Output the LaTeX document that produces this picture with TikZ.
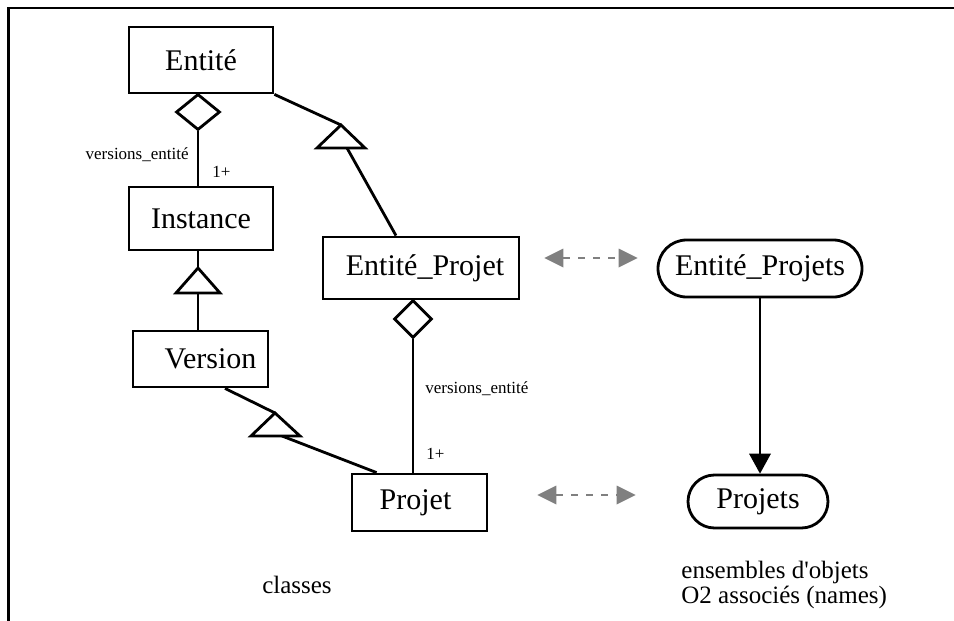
\documentclass[tikz,border=0pt]{standalone}
\usepackage{fontspec}
\setmainfont{Liberation Serif}
\usetikzlibrary{shapes.geometric,shapes.misc,arrows.meta,calc}
\begin{document}
\begin{tikzpicture}[x=1pt,y=-1pt,line width=2.8pt,
  box/.style={draw,rectangle,inner sep=0pt,font=\fontsize{30}{36}\selectfont},
  rbox/.style={draw,rounded rectangle,inner sep=0pt,font=\fontsize{30}{36}\selectfont},
  agg/.style={draw,diamond,fill=white,inner sep=0pt},
  tri/.style={draw,fill=white,line join=miter},
  small/.style={inner sep=0pt,font=\fontsize{17}{20}\selectfont},
  note/.style={inner sep=0pt,font=\fontsize{25}{25}\selectfont},
  garrow/.style={draw=gray,line width=2pt,dash pattern=on 7pt off 8pt,
    {Triangle[length=19pt,width=19pt,color=gray,line width=0pt]}-{Triangle[length=19pt,width=19pt,color=gray,line width=0pt]}},
  barrow/.style={-{Triangle[length=20pt,width=22pt,line width=0pt]}}
]
\useasboundingbox (0,0) rectangle (954,621);
% frame (top and left sides visible)
\draw[line width=2.8pt] (8.5,621) -- (8.5,8) -- (954,8);

% classes
\node[box,minimum width=144pt,minimum height=66pt] (entite) at (201,60) {Entité};
\node[box,minimum width=144pt,minimum height=63pt] (instance) at (201,218.5) {Instance};
\node[box,minimum width=135pt,minimum height=56pt] (version) at (200.5,359) {\hspace*{20pt}Version};
\node[box,minimum width=196pt,minimum height=62pt] (ep) at (421,268) {\hspace*{8pt}Entité\_Projet};
\node[box,minimum width=135pt,minimum height=57pt] (projet) at (419.5,502.5) {Projet\hspace*{8pt}};

% O2 names
\node[rbox,minimum width=204pt,minimum height=57pt] (eps) at (760,268.5) {Entité\_Projets};
\node[rbox,minimum width=140pt,minimum height=53pt] (projets) at (758,501.5) {Projets};

% aggregation diamonds
\node[agg,minimum width=44pt,minimum height=36pt] (d1) at (198,112) {};
\node[agg,minimum width=38pt,minimum height=38pt] (d2) at (413,319) {};

% generalisation triangles
\coordinate (t1) at (198,268); \coordinate (t1b) at (198,293);
\coordinate (t2) at (341,125); \coordinate (t2b) at (347,148);
\coordinate (t3) at (275,413); \coordinate (t3b) at (282,436);

% connectors
\draw (d1.south) -- (d1.south |- instance.north);
\draw (instance.south -| t1) -- (t1);
\draw (t1b) -- (t1b |- version.north);
\draw (entite.south east) -- (t2);
\draw (t2b) -- ($(ep.north)+(-25,0)$);
\draw ($(version.south)+(24.5,0)$) -- (t3);
\draw (t3b) -- ($(projet.north west)+(26,0)$);
\draw (d2.south) -- (d2.south |- projet.north);

\draw[tri] (t1) -- ++(-22,25) -- ++(44,0) -- cycle;
\draw[tri] (t2) -- ++(-24,23) -- ++(48,0) -- cycle;
\draw[tri] (t3) -- ++(-24,23) -- ++(49,0) -- cycle;

% labels
\node[small,anchor=base east] (l1) at (190,159) {versions\_entité};
\node[small,anchor=base west] (m1) at (211,177) {1+};
\node[small,anchor=base west] (l2) at (424,393) {versions\_entité};
\node[small,anchor=base west] (m2) at (425,459) {1+};

% correspondences
\draw[garrow] ($(ep.east)+(24,-10)$) -- ($(eps.west)+(-19,-10.5)$);
\draw[garrow] ($(projet.east)+(49,-7.5)$) -- ($(projets.west)+(-51,-6.5)$);
\draw[barrow] (eps.south) -- (eps.south |- projets.north);

% captions
\node[note,anchor=base] (cl) at (297,593) {classes};
\node[note,anchor=base west] (e1) at (680,578) {ensembles d\textquotesingle objets};
\node[note,anchor=base west] (e2) at (680,603) {O2 associés (names)};
\end{tikzpicture}
\end{document}
